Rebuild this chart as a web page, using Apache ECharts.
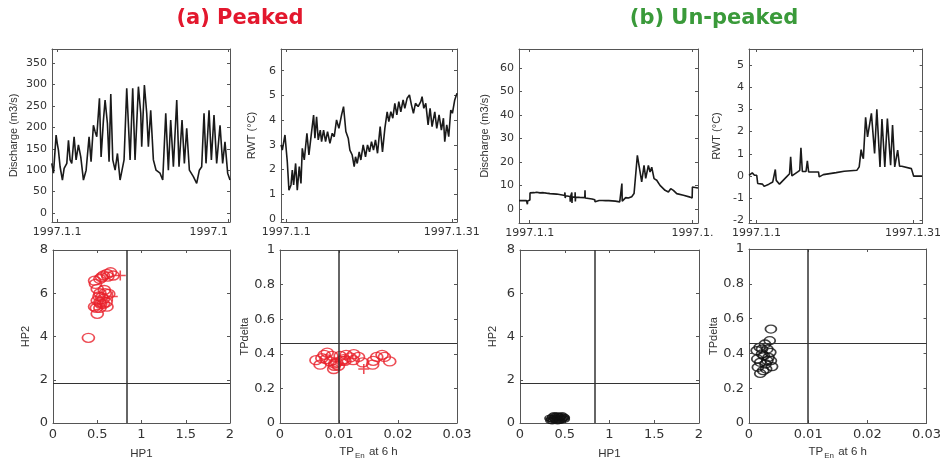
<!DOCTYPE html>
<html>
<head>
<meta charset="utf-8">
<script src="https://cdn.jsdelivr.net/npm/echarts@6/dist/echarts.min.js"></script>
<style>
  html, body { margin: 0; background: #fff; }
  #main { width: 944px; height: 461px; }
</style>
</head>
<body>
<div id="main"></div>
<script>
// ---- data (x in days from 1997.1.1) ----
const peakedQ = [[-0.94,116],[-0.64,93],[-0.18,182],[0.05,160],[0.23,147],[0.52,108],[0.93,77],[1.23,104],[1.70,116],[1.99,170],[2.28,124],[2.57,116],[2.98,178],[3.33,124],[3.74,159],[4.15,131],[4.62,77],[5.09,100],[5.61,178],[5.96,120],[6.37,205],[6.67,190],[6.96,178],[7.43,268],[7.72,131],[8.13,217],[8.42,264],[8.83,209],[9.12,120],[9.42,278],[9.77,124],[10.18,100],[10.59,139],[11.05,77],[11.35,81],[11.75,124],[12.22,291],[12.81,124],[13.27,291],[13.68,124],[14.27,295],[14.68,233],[14.85,155],[15.32,299],[15.73,233],[16.02,155],[16.43,240],[16.90,124],[17.37,100],[18.07,93],[18.54,77],[19.07,233],[19.53,100],[19.94,217],[20.41,108],[21.0,264],[21.40,108],[21.93,217],[22.34,116],[22.75,198],[23.22,100],[23.92,85],[24.50,69],[24.97,100],[25.38,108],[25.79,233],[26.14,116],[26.67,240],[27.08,124],[27.54,229],[28.01,116],[28.60,205],[29.06,116],[29.47,166],[29.94,93],[30.35,77]];

const peakedT = [[-0.95,3.0],[-0.72,2.79],[-0.24,3.40],[0.18,2.32],[0.48,1.17],[0.85,1.38],[1.09,1.98],[1.33,1.38],[1.69,2.25],[1.99,1.17],[2.35,2.12],[2.66,1.44],[2.90,2.86],[3.26,2.39],[3.74,3.47],[4.10,2.59],[4.59,3.54],[4.95,4.21],[5.19,3.27],[5.49,4.14],[5.79,3.20],[6.16,3.60],[6.40,3.13],[6.76,3.60],[7.12,3.13],[7.48,3.54],[7.91,3.06],[8.33,3.47],[8.69,3.33],[9.11,4.01],[9.54,3.67],[10.02,4.21],[10.38,4.55],[10.80,3.54],[11.23,3.27],[11.53,2.79],[11.95,2.59],[12.31,2.12],[12.55,2.52],[12.86,2.25],[13.22,2.72],[13.52,2.39],[13.94,3.0],[14.36,2.52],[14.73,3.0],[15.09,2.72],[15.45,3.13],[15.81,2.79],[16.17,3.20],[16.54,2.66],[17.02,3.74],[17.44,2.72],[17.87,3.67],[18.29,4.34],[18.59,3.94],[18.95,4.34],[19.31,4.08],[19.68,4.68],[20.04,4.21],[20.40,4.75],[20.76,4.34],[21.18,4.82],[21.49,4.48],[21.91,4.89],[22.33,5.02],[22.69,4.62],[23.05,4.28],[23.42,4.68],[23.90,4.55],[24.38,4.75],[24.62,4.95],[24.93,4.48],[25.29,4.68],[25.71,3.81],[26.07,4.48],[26.43,3.74],[26.92,4.34],[27.28,3.67],[27.70,4.21],[28.12,3.60],[28.49,4.08],[28.73,3.13],[29.09,3.81],[29.45,3.33],[29.82,4.41],[30.12,4.28],[30.54,4.82],[30.95,5.09]];

const unpeakedQ = [[-1.97,3.5],[-0.6,3.6],[-0.45,3.2],[-0.42,2.0],[-0.38,3.4],[-0.12,3.8],[0.04,3.8],[0.06,6.8],[0.18,7.2],[0.8,6.9],[1.29,7.1],[1.9,6.8],[2.52,6.9],[3.1,6.7],[3.2,7.4],[3.3,6.3],[3.75,6.5],[4.98,6.3],[6.0,5.9],[6.45,5.7],[6.5,7.0],[6.55,4.6],[6.62,5.6],[7.44,5.3],[7.48,3.0],[7.52,5.2],[7.74,5.2],[7.77,7.0],[7.8,2.5],[7.85,5.1],[8.36,5.0],[8.38,7.1],[8.42,3.2],[8.46,5.0],[9.2,4.9],[10.16,4.8],[10.2,7.9],[10.24,4.6],[10.51,4.5],[11.5,4.2],[12.0,3.9],[12.05,3.0],[12.3,3.8],[12.8,3.6],[13.1,4.2],[13.4,3.6],[13.7,4.1],[14.0,3.5],[14.3,4.1],[14.6,3.5],[14.9,4.0],[15.2,3.4],[15.5,3.9],[15.8,3.3],[16.04,3.6],[16.6,3.0],[16.95,3.2],[17.0,10.8],[17.06,3.3],[17.27,3.7],[17.7,4.8],[18.0,4.0],[18.19,4.6],[18.5,3.8],[18.81,5.2],[19.24,6.5],[19.55,7.2],[19.85,22.8],[20.16,22.0],[20.65,11.5],[21.08,18.5],[21.39,13],[21.88,18.5],[22.19,15.7],[22.5,17.7],[22.93,12.9],[23.42,12.2],[24.03,10],[24.96,7.9],[25.57,7.2],[26.0,8.6],[26.49,7.9],[27.11,6.5],[28.34,5.8],[29.57,5.0],[29.95,4.6],[30.0,9.3],[31.03,8.9]];

const unpeakedT = [[-1.42,0.03],[-0.8,0.14],[-0.37,0.03],[0.06,0.03],[0.25,-0.34],[1.17,-0.37],[1.47,-0.47],[2.39,-0.37],[3.13,-0.27],[3.45,-0.2],[3.62,0.29],[3.8,-0.2],[3.93,-0.27],[4.42,-0.37],[5.77,-0.04],[6.07,0.03],[6.35,0.1],[6.56,0.86],[6.8,0.0],[6.99,-0.01],[7.91,0.18],[8.3,0.25],[8.53,1.27],[8.8,0.2],[9.02,0.18],[9.5,0.2],[9.76,0.68],[10.0,0.18],[10.12,0.18],[11.90,0.18],[12.03,-0.04],[12.82,0.06],[15.28,0.15],[16.81,0.21],[16.99,0.15],[19.27,0.26],[19.69,0.41],[20.06,1.19],[20.3,0.9],[20.49,0.78],[20.92,2.64],[21.29,1.76],[21.60,1.69],[22.03,2.82],[22.64,1.01],[23.07,3.0],[23.68,0.41],[24.05,2.56],[24.60,0.41],[25.09,2.59],[25.71,0.48],[26.08,2.29],[26.50,0.41],[27.06,1.16],[27.42,0.44],[27.85,0.44],[29.69,0.33],[30.0,0.30],[30.13,-0.01],[31.72,-0.01]];

const peakedHP = [[0.40,3.94],[0.50,5.05],[0.49,5.32],[0.47,5.38],[0.53,5.32],[0.53,5.58],[0.57,5.51],[0.61,5.38],[0.60,5.58],[0.52,5.85],[0.55,5.82],[0.59,6.0],[0.63,5.97],[0.53,6.0],[0.57,5.74],[0.50,6.2],[0.48,6.43],[0.47,6.58],[0.53,6.66],[0.57,6.82],[0.61,6.89],[0.65,6.97],[0.55,6.74],[0.62,6.77],[0.68,6.82],[0.58,6.15],[0.54,5.51],[0.50,5.66]];
const peakedHPPlus = [[0.76,6.82],[0.67,5.85]];

const peakedTP = [[0.0061,0.363],[0.0068,0.337],[0.0071,0.375],[0.0075,0.394],[0.0080,0.407],[0.0078,0.369],[0.0085,0.356],[0.0088,0.388],[0.0091,0.312],[0.0092,0.331],[0.0096,0.350],[0.0099,0.331],[0.0102,0.388],[0.0108,0.369],[0.0112,0.394],[0.0110,0.359],[0.0119,0.379],[0.0125,0.398],[0.0124,0.363],[0.0133,0.382],[0.0140,0.350],[0.0158,0.359],[0.0157,0.337],[0.0164,0.382],[0.0173,0.394],[0.0177,0.382],[0.0186,0.356],[0.0093,0.344],[0.0105,0.359]];
const peakedTPPlus = [[0.0142,0.312]];

const unpeakedHP = [[0.34,0.12],[0.35,0.2],[0.36,0.28],[0.37,0.15],[0.38,0.22],[0.39,0.3],[0.40,0.12],[0.41,0.25],[0.42,0.18],[0.43,0.32],[0.44,0.14],[0.45,0.24],[0.46,0.3],[0.47,0.16],[0.48,0.22],[0.49,0.28],[0.50,0.18],[0.36,0.1],[0.39,0.18],[0.42,0.1],[0.44,0.28],[0.47,0.34],[0.38,0.34],[0.41,0.33],[0.45,0.12],[0.50,0.25],[0.33,0.22]];

const unpeakedTP = [[0.0037,0.540],[0.0035,0.473],[0.0019,0.285],[0.0013,0.416],[0.0014,0.368],[0.0015,0.320],[0.0022,0.425],[0.0025,0.387],[0.0028,0.339],[0.0031,0.425],[0.0033,0.377],[0.0036,0.406],[0.0037,0.358],[0.0039,0.324],[0.0029,0.310],[0.0019,0.349],[0.0024,0.301],[0.0031,0.358],[0.0022,0.397],[0.0027,0.454],[0.0018,0.435]];

// thresholds drawn as cross-hair lines
const hpThreshold = [0.83, 1.86];
const tpThreshold = [0.0107, 0.46];

// tick positions and labels
const dateTicks = [0, 30];
const dateLabels = [['1997.1.1', '1997.1'], ['1997.1.1', '1997.1.31'], ['1997.1.1', '1997.1.'], ['1997.1.1', '1997.1.31']];
const qTicksPeaked = [0, 50, 100, 150, 200, 250, 300, 350];
const tTicksPeaked = [0, 1, 2, 3, 4, 5, 6];
const qTicksUnpeaked = [0, 10, 20, 30, 40, 50, 60];
const tTicksUnpeaked = [-2, -1, 0, 1, 2, 3, 4, 5];
const hp1Ticks = [0, 0.5, 1, 1.5, 2];
const hp2Ticks = [0, 2, 4, 6, 8];
const tpEnTicks = [0, 0.01, 0.02, 0.03];
const tpDeltaTicks = [0, 0.2, 0.4, 0.6, 0.8, 1];

// ---- styling ----
const FRAME = '#555';
const RED = '#e8202a';
const SANS = '"Liberation Sans", Arial, sans-serif';
const WIDE = '"DejaVu Sans", sans-serif';

const grids = [
  { left: 52, top: 49, width: 178, height: 173 },
  { left: 281, top: 49, width: 176, height: 173 },
  { left: 519, top: 49, width: 179, height: 174 },
  { left: 749, top: 49, width: 181, height: 174 },
  { left: 53, top: 250, width: 177, height: 175 },
  { left: 280, top: 250, width: 177, height: 174 },
  { left: 520, top: 250, width: 179, height: 175 },
  { left: 749, top: 249, width: 179, height: 175 }
];

const xAxes = [];
const yAxes = [];

function addAxes(gi, x, y) {
  const tick = (vals) => ({ show: true, inside: true, length: 3, customValues: vals, lineStyle: { color: FRAME } });
  const line = { show: true, onZero: false, lineStyle: { color: FRAME, width: 1 } };
  xAxes.push({
    type: 'value', gridIndex: gi, position: 'bottom', min: x.min, max: x.max,
    splitLine: { show: false }, axisLine: line, axisTick: tick(x.ticks),
    axisLabel: Object.assign({ customValues: x.ticks, color: '#333', fontSize: x.fs, fontFamily: WIDE, margin: 5 }, x.label || {}),
    name: x.name, nameLocation: 'middle', nameGap: x.nameGap || 0,
    nameTextStyle: { color: '#333', fontSize: 11.5, fontFamily: SANS, rich: x.rich }
  });
  xAxes.push({
    type: 'value', gridIndex: gi, position: 'top', min: x.min, max: x.max,
    splitLine: { show: false }, axisLine: line, axisTick: tick(x.ticks), axisLabel: { show: false }
  });
  yAxes.push({
    type: 'value', gridIndex: gi, position: 'left', min: y.min, max: y.max,
    splitLine: { show: false }, axisLine: line, axisTick: tick(y.ticks),
    axisLabel: { customValues: y.ticks, color: '#333', fontSize: y.fs, fontFamily: WIDE, margin: 5 },
    name: y.name, nameLocation: 'middle', nameGap: y.nameGap, nameRotate: 90,
    nameTextStyle: { color: '#333', fontSize: 11, fontFamily: SANS }
  });
  yAxes.push({
    type: 'value', gridIndex: gi, position: 'right', min: y.min, max: y.max,
    splitLine: { show: false }, axisLine: line, axisTick: tick(y.ticks), axisLabel: { show: false }
  });
}

function dateAxis(i, min, max, extra) {
  const labels = dateLabels[i];
  return {
    min: min, max: max, ticks: dateTicks, fs: 11,
    label: Object.assign({ formatter: (v) => (v < 15 ? labels[0] : labels[1]) }, extra || {})
  };
}

const tpName = '{a|TP}{s|En}{a| at 6 h}';
const tpRich = {
  a: { fontSize: 11.5, fontFamily: SANS, color: '#333', verticalAlign: 'top', lineHeight: 14 },
  s: { fontSize: 8, fontFamily: SANS, color: '#333', verticalAlign: 'top', lineHeight: 14, padding: [6, 1, 0, 1] }
};

addAxes(0, dateAxis(0, -0.9, 30.35, { alignMaxLabel: 'right' }),
  { min: -21, max: 383, ticks: qTicksPeaked, fs: 11, name: 'Discharge (m3/s)', nameGap: 33 });
addAxes(1, dateAxis(1, -0.96, 30.95),
  { min: -0.12, max: 6.88, ticks: tTicksPeaked, fs: 11, name: 'RWT (°C)', nameGap: 24 });
addAxes(2, dateAxis(2, -1.97, 31.03),
  { min: -6, max: 68, ticks: qTicksUnpeaked, fs: 11, name: 'Discharge (m3/s)', nameGap: 29 });
addAxes(3, dateAxis(3, -1.42, 31.84),
  { min: -2.12, max: 5.72, ticks: tTicksUnpeaked, fs: 11, name: 'RWT (°C)', nameGap: 27 });
addAxes(4, { min: 0, max: 2, ticks: hp1Ticks, fs: 13, name: 'HP1', nameGap: 25 },
  { min: 0, max: 8, ticks: hp2Ticks, fs: 13, name: 'HP2', nameGap: 22 });
addAxes(5, { min: 0, max: 0.03, ticks: tpEnTicks, fs: 13, name: tpName, rich: tpRich, nameGap: 23 },
  { min: 0, max: 1, ticks: tpDeltaTicks, fs: 13, name: 'TPdelta', nameGap: 29 });
addAxes(6, { min: 0, max: 2, ticks: hp1Ticks, fs: 13, name: 'HP1', nameGap: 25 },
  { min: 0, max: 8, ticks: hp2Ticks, fs: 13, name: 'HP2', nameGap: 22 });
addAxes(7, { min: 0, max: 0.03, ticks: tpEnTicks, fs: 13, name: tpName, rich: tpRich, nameGap: 23 },
  { min: 0, max: 1, ticks: tpDeltaTicks, fs: 13, name: 'TPdelta', nameGap: 29 });

function lineSeries(gi, data) {
  return {
    type: 'line', xAxisIndex: gi * 2, yAxisIndex: gi * 2, data: data,
    showSymbol: false, lineStyle: { color: '#1a1a1a', width: 1.6 }, silent: true
  };
}

function circles(gi, data, color, size) {
  return {
    type: 'scatter', xAxisIndex: gi * 2, yAxisIndex: gi * 2, data: data,
    symbol: 'circle', symbolSize: size,
    itemStyle: { color: 'rgba(0,0,0,0)', borderColor: color, borderWidth: 1.5 }, silent: true
  };
}

function pluses(gi, data, color) {
  return {
    type: 'scatter', xAxisIndex: gi * 2, yAxisIndex: gi * 2, data: data,
    symbol: 'path://M0,5L10,5M5,0L5,10', symbolSize: [11, 10],
    itemStyle: { color: 'none', borderColor: color, borderWidth: 1.5 }, silent: true
  };
}

function crossHair(gi, thr) {
  return {
    type: 'line', xAxisIndex: gi * 2, yAxisIndex: gi * 2, data: [],
    markLine: {
      silent: true, symbol: 'none', label: { show: false },
      lineStyle: { color: '#333', type: 'solid', width: 1 },
      data: [{ xAxis: thr[0], lineStyle: { width: 1.5 } }, { yAxis: thr[1] }]
    }
  };
}

const option = {
  animation: false,
  backgroundColor: '#fff',
  title: [
    { text: '(a) Peaked', left: 235, top: 3, textAlign: 'center',
      textStyle: { color: '#e3172d', fontSize: 21, fontWeight: 'bold', fontFamily: WIDE } },
    { text: '(b) Un-peaked', left: 709, top: 3, textAlign: 'center',
      textStyle: { color: '#3a9a3a', fontSize: 21, fontWeight: 'bold', fontFamily: WIDE } }
  ],
  grid: grids,
  xAxis: xAxes,
  yAxis: yAxes,
  series: [
    lineSeries(0, peakedQ),
    lineSeries(1, peakedT),
    lineSeries(2, unpeakedQ),
    lineSeries(3, unpeakedT),
    crossHair(4, hpThreshold),
    circles(4, peakedHP, RED, [12, 9]),
    pluses(4, peakedHPPlus, RED),
    crossHair(5, tpThreshold),
    circles(5, peakedTP, RED, [12, 9]),
    pluses(5, peakedTPPlus, RED),
    crossHair(6, hpThreshold),
    circles(6, unpeakedHP, '#111', [9, 6]),
    crossHair(7, tpThreshold),
    circles(7, unpeakedTP, '#111', [11, 8])
  ]
};

echarts.init(document.getElementById('main')).setOption(option);
</script>
</body>
</html>
